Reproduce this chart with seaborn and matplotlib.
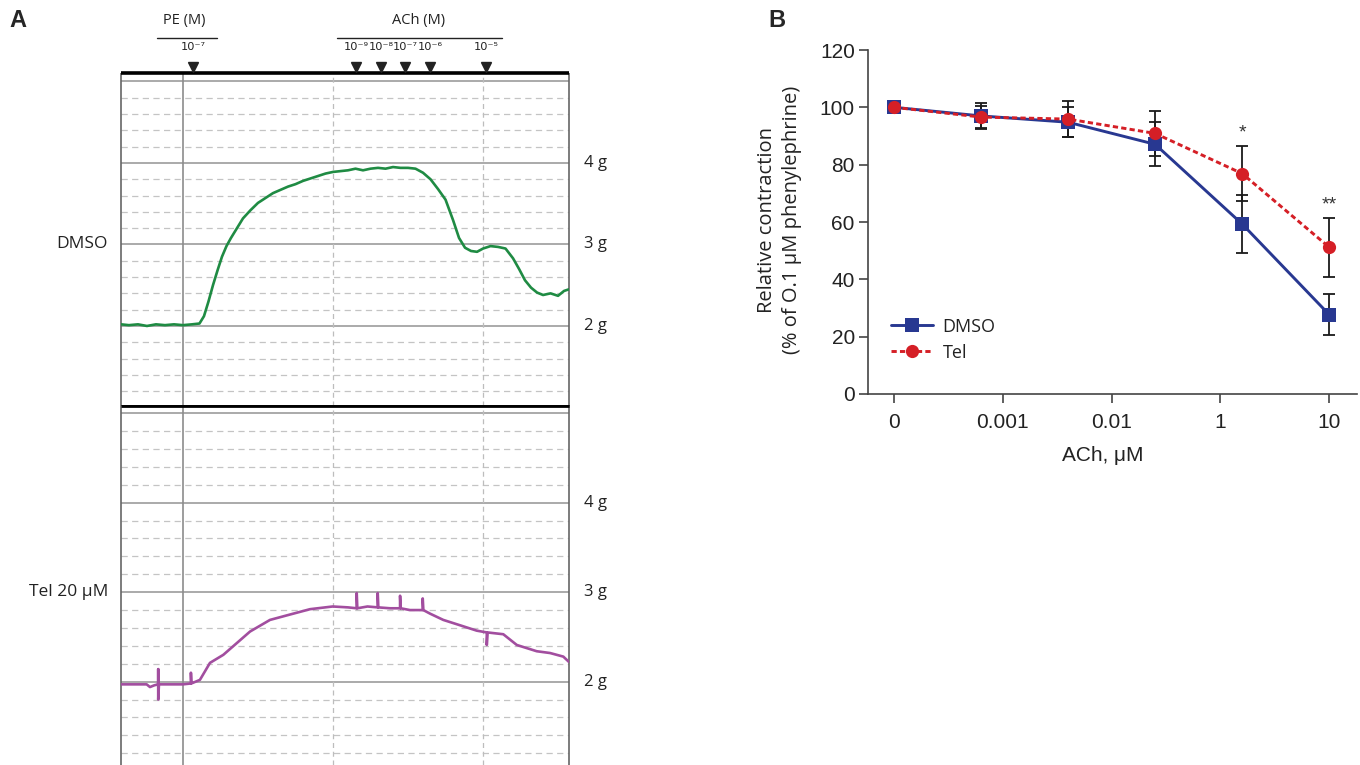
import numpy as np
import pandas as pd
import matplotlib
matplotlib.use("Agg")
import matplotlib.pyplot as plt
import seaborn as sns

# ---------------- data ----------------
# Panel A: isometric tension traces (time in min, tension in g)
dmso_t = [-4.13, -3.6, -3.0, -2.4, -1.8, -1.2, -0.6, 0.0, 0.6, 1.1, 1.4, 1.7, 2.0, 2.3, 2.6,
          2.9, 3.2, 3.6, 4.0, 4.5, 5.0, 5.5, 6.0, 6.5, 7.0, 7.5, 8.0, 8.5, 9.0, 9.5, 10.0,
          10.5, 11.0, 11.5, 12.0, 12.5, 13.0, 13.5, 14.0, 14.5, 15.0, 15.5, 16.0, 16.5,
          17.0, 17.5, 18.0, 18.4, 18.8, 19.2, 19.6, 20.0, 20.5, 21.0, 21.5, 22.0, 22.4,
          22.8, 23.2, 23.6, 24.0, 24.5, 25.0, 25.4, 25.73]
dmso_g = [2.02, 2.01, 2.02, 2.00, 2.02, 2.01, 2.02, 2.01, 2.02, 2.03, 2.12, 2.30, 2.50, 2.68, 2.85,
          2.98, 3.08, 3.20, 3.32, 3.42, 3.51, 3.57, 3.63, 3.67, 3.71, 3.74, 3.78, 3.81, 3.84, 3.87, 3.89,
          3.90, 3.91, 3.93, 3.91, 3.93, 3.94, 3.93, 3.95, 3.94, 3.94, 3.93, 3.88, 3.80,
          3.68, 3.55, 3.30, 3.08, 2.96, 2.92, 2.91, 2.95, 2.98, 2.97, 2.95, 2.83, 2.70,
          2.56, 2.47, 2.41, 2.38, 2.40, 2.37, 2.43, 2.45]

tel_t = [-4.13, -3.0, -2.42, -2.2, -1.9, -1.65, -1.65, -1.65, -1.6, -0.8, 0.0, 0.53, 0.53, 0.56,
         1.13, 1.8, 2.69, 3.58, 4.47, 5.8, 7.13, 8.47, 9.98, 11.0, 11.58, 11.58, 11.62, 12.3,
         12.98, 12.98, 13.02, 13.8, 14.47, 14.47, 14.51, 15.13, 15.98, 15.98, 16.02, 16.47,
         17.35, 18.47, 19.58, 20.25, 20.25, 20.3, 21.35, 22.25, 23.58, 24.47, 25.35, 25.73]
tel_g = [1.97, 1.97, 1.97, 1.94, 1.96, 1.97, 2.14, 1.80, 1.97, 1.97, 1.97, 1.98, 2.10, 1.98,
         2.02, 2.21, 2.30, 2.43, 2.56, 2.69, 2.75, 2.81, 2.84, 2.83, 2.82, 2.99, 2.82, 2.84,
         2.83, 2.99, 2.83, 2.82, 2.82, 2.96, 2.82, 2.80, 2.80, 2.93, 2.80, 2.76,
         2.69, 2.63, 2.57, 2.55, 2.41, 2.55, 2.53, 2.41, 2.34, 2.32, 2.28, 2.22]

pe_time = [0.67]
pe_labels = ["10\u207b\u2077"]
ach_times = [11.53, 13.2, 14.8, 16.47, 20.2]
ach_labels = ["10\u207b\u2079", "10\u207b\u2078", "10\u207b\u2077", "10\u207b\u2076", "10\u207b\u2075"]

# Panel B: relative contraction (% of 0.1 uM phenylephrine)
ach_uM = ["0", "0.001", "0.01", "0.1", "1", "10"]
dmso_mean = [100, 97.0, 94.8, 87.1, 59.3, 27.7]
dmso_sem = [0, 4.6, 5.2, 7.7, 10.1, 7.1]
tel_mean = [100, 96.6, 95.9, 90.9, 76.9, 51.2]
tel_sem = [0, 3.8, 6.3, 7.9, 9.7, 10.3]
signif = ["", "", "", "", "*", "**"]
xtick_labels = ["0", "0.001", "0.01", "1", "10"]

# ---------------- style ----------------
sns.set_theme(style="white")
plt.rcParams["font.family"] = ["Open Sans", "DejaVu Sans"]
TXT = ["Open Sans", "DejaVu Sans"]
NUM = ["Liberation Sans", "DejaVu Sans"]

W, H = 1360, 765
fig = plt.figure(figsize=(13.6, 7.65), dpi=100)

def fx(px):
    return px / W

def fy(py):
    return 1 - py / H

green = "#1F8B43"
purple = "#A24E9F"

ax1 = fig.add_axes([fx(121), fy(406), 448 / W, 333 / H])
ax2 = fig.add_axes([fx(121), 0.0, 448 / W, 359 / H])

traces = [(ax1, dmso_t, dmso_g, green, (1.018, 5.104)),
          (ax2, tel_t, tel_g, purple, (1.069, 5.08))]
for ax, tt, gg, col, yl in traces:
    ax.set_xlim(-4.13, 25.73)
    ax.set_ylim(*yl)
    ax.set_xticks([])
    ax.set_yticks([])
    for lev in np.arange(1.2, 5.01, 0.2):
        if abs(lev - round(lev)) < 1e-6:
            ax.axhline(lev, color="#9c9c9c", lw=1.2, zorder=1)
        else:
            ax.axhline(lev, color="#c4c4c4", lw=0.9, ls=(0, (5, 3.5)), zorder=1)
    ax.axvline(0, color="#8c8c8c", lw=1.2, zorder=1)
    for v in (10, 20):
        ax.axvline(v, color="#bdbdbd", lw=0.9, ls=(0, (4, 3)), zorder=1)
    sns.lineplot(x=tt, y=gg, ax=ax, color=col, lw=1.9, sort=False, estimator=None, zorder=3)
    for s in ("left", "right"):
        ax.spines[s].set_color("#666666")
        ax.spines[s].set_linewidth(1.2)
    for lv, lab in zip((2, 3, 4), ("2 g", "3 g", "4 g")):
        ax.text(1.0335, lv, lab, transform=ax.get_yaxis_transform(), ha="left", va="center",
                fontsize=12, family=TXT, color="#222222")
    for sp in ax.spines.values():
        sp.set_capstyle("butt")

ax1.spines["top"].set_color("black"); ax1.spines["top"].set_linewidth(2.6)
ax1.spines["bottom"].set_color("black"); ax1.spines["bottom"].set_linewidth(2.0)
ax2.spines["top"].set_color("black"); ax2.spines["top"].set_linewidth(2.0)
ax2.spines["bottom"].set_visible(False)

ax1.text(-0.029, 3, "DMSO", transform=ax1.get_yaxis_transform(), ha="right", va="center",
         fontsize=12.5, family=TXT, color="#222222")
ax2.text(-0.029, 3, "Tel 20 \u03bcM", transform=ax2.get_yaxis_transform(), ha="right", va="center",
         fontsize=12.5, family=TXT, color="#222222")

# addition markers
xt = ax1.get_xaxis_transform()
all_times = pe_time + ach_times
ax1.plot(all_times, [1.018] * len(all_times), "v", color="#222222", ms=7.5, clip_on=False,
         transform=xt, zorder=5)
for t, lab in zip(all_times, pe_labels + ach_labels):
    ax1.text(t, 1.078, lab, transform=xt, ha="center", va="center", fontsize=8.2,
             family=["DejaVu Sans"], color="#222222")
ax1.text(0.07, 1.159, "PE (M)", transform=xt, ha="center", va="center", fontsize=10.5,
         family=TXT, color="#222222")
ax1.text(15.73, 1.159, "ACh (M)", transform=xt, ha="center", va="center", fontsize=10.5,
         family=TXT, color="#222222")
ax1.plot([-1.73, 2.27], [1.105, 1.105], color="#222222", lw=1.0, transform=xt, clip_on=False)
ax1.plot([10.27, 21.27], [1.105, 1.105], color="#222222", lw=1.0, transform=xt, clip_on=False)

# ---------------- panel B ----------------
axB = fig.add_axes([fx(868), fy(394), 489 / W, 344 / H])
pos = list(range(len(ach_uM)))
df = pd.DataFrame({
    "pos": pos * 2,
    "val": dmso_mean + tel_mean,
    "grp": ["DMSO"] * len(pos) + ["Tel"] * len(pos),
})
navy = "#283891"
red = "#D51F26"
axB.errorbar(pos, dmso_mean, yerr=dmso_sem, fmt="none", ecolor="#1a1a1a", elinewidth=1.3,
             capsize=4, capthick=1.3, zorder=2)
axB.errorbar(pos, tel_mean, yerr=tel_sem, fmt="none", ecolor="#1a1a1a", elinewidth=1.3,
             capsize=4, capthick=1.3, zorder=2)
sns.lineplot(data=df, x="pos", y="val", hue="grp", style="grp",
             palette={"DMSO": navy, "Tel": red},
             markers={"DMSO": "s", "Tel": "o"},
             dashes={"DMSO": "", "Tel": (1.8, 1.1)},
             markersize=9.5, lw=2.1, markeredgewidth=0, ax=axB, zorder=3)
for x, m, s, lab in zip(pos, tel_mean, tel_sem, signif):
    if lab:
        axB.text(x, m + s + 1.5, lab, ha="center", va="bottom", fontsize=14, color="#333333",
                 family=NUM)

axB.set_xlim(-0.3, 5.32)
axB.set_ylim(0, 120)
axB.set_yticks(np.arange(0, 121, 20))
axB.set_xticks(np.linspace(0, 5, len(xtick_labels)))
axB.set_xticklabels(xtick_labels)
for lab in axB.get_xticklabels() + axB.get_yticklabels():
    lab.set_family(NUM)
    lab.set_fontsize(15)
    lab.set_color("#222222")
axB.tick_params(axis="both", direction="out", length=6.5, width=1.2, color="#444444",
                left=True, bottom=True)
axB.tick_params(axis="y", pad=3)
axB.tick_params(axis="x", pad=7)
for s in ("top", "right"):
    axB.spines[s].set_visible(False)
for s in ("left", "bottom"):
    axB.spines[s].set_color("#444444")
    axB.spines[s].set_linewidth(1.2)
axB.set_xlabel("ACh, \u03bcM", fontsize=15, family=NUM, color="#222222")
axB.xaxis.set_label_coords(0.48, -0.15)
axB.set_ylabel("Relative contraction\n(% of O.1 \u03bcM phenylephrine)", fontsize=14.5,
               family=TXT, color="#222222", linespacing=1.3)
axB.yaxis.set_label_coords(-0.135, 0.506)

sns.move_legend(axB, loc="upper left", bbox_to_anchor=(0.047, 0.222), frameon=False,
                title=None, fontsize=13, handlelength=2.3, handletextpad=0.55,
                labelspacing=0.45, borderpad=0, borderaxespad=0)
for t in axB.get_legend().get_texts():
    t.set_family(TXT)
    t.set_color("#222222")

fig.text(fx(9), fy(9), "A", fontsize=17, fontweight="bold", family=["Liberation Sans"],
         va="top", ha="left")
fig.text(fx(768), fy(9), "B", fontsize=17, fontweight="bold", family=["Liberation Sans"],
         va="top", ha="left")

fig.savefig("out.png", dpi=100)
